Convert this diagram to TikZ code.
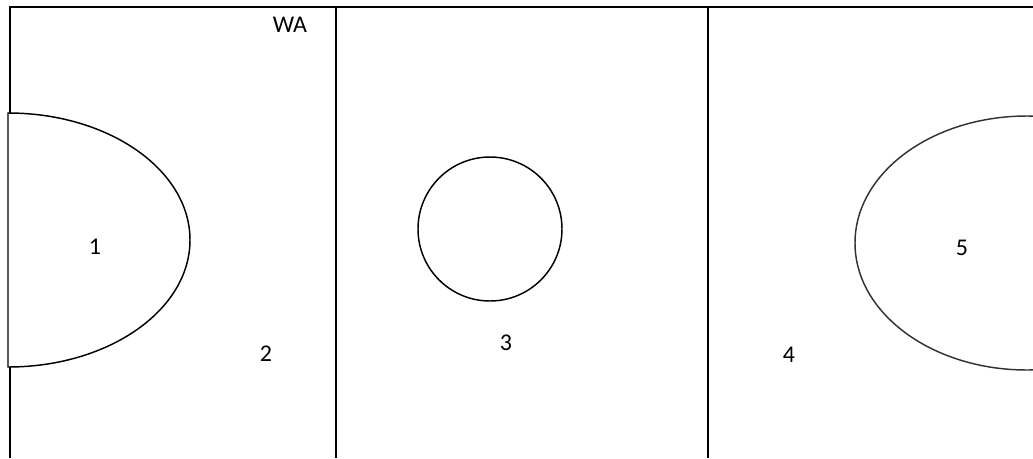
\documentclass[tikz,border=0pt]{standalone}
\usepackage{fontspec}
\setmainfont{Carlito}
\tikzset{
  court/.style={line width=1.5pt, draw=black},
  zone/.style={line width=1.1pt, draw=black},
  lbl/.style={font=\fontsize{18}{21}\selectfont, inner sep=0pt}
}
\begin{document}
\begin{tikzpicture}[x=0.75pt,y=-0.75pt]
\useasboundingbox (0,0) rectangle (1033,458);
\clip (0,0) rectangle (1033,458);
% court lines
\draw[court] (10,458) -- (10,7) -- (1033,7);
\draw[court] (336,7) -- (336,458);
\draw[court] (708,7) -- (708,458);
% half ellipse (1)
\draw[zone, fill=white] (8,113) arc[start angle=90, end angle=-90, x radius=136.5pt, y radius=95.25pt] -- cycle;
% circle (3)
\draw[zone] (490,229) circle[radius=54pt];
% ellipse (5)
\draw[line width=1.1pt, draw=black!80] (1027,243) ellipse[x radius=129pt, y radius=95.25pt];
% labels
\node[lbl] (wa) at (290,25) {WA};
\node[lbl] (l1) at (95,247) {1};
\node[lbl] (l2) at (266,354) {2};
\node[lbl] (l3) at (506,343) {3};
\node[lbl] (l4) at (789,355) {4};
\node[lbl] (l5) at (962,248) {5};
\end{tikzpicture}
\end{document}
